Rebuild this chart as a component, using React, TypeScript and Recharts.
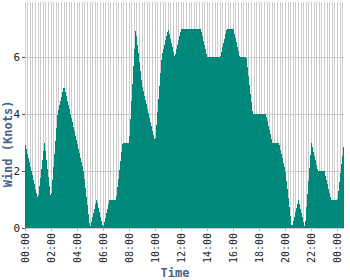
import React from "react";
import { AreaChart, Area, XAxis, YAxis, CartesianGrid } from "recharts";

// half-hourly wind readings, last two run into the next day
const times = [
  "00:00", "00:30", "01:00", "01:30", "02:00", "02:30", "03:00", "03:30",
  "04:00", "04:30", "05:00", "05:30", "06:00", "06:30", "07:00", "07:30",
  "08:00", "08:30", "09:00", "09:30", "10:00", "10:30", "11:00", "11:30",
  "12:00", "12:30", "13:00", "13:30", "14:00", "14:30", "15:00", "15:30",
  "16:00", "16:30", "17:00", "17:30", "18:00", "18:30", "19:00", "19:30",
  "20:00", "20:30", "21:00", "21:30", "22:00", "22:30", "23:00", "23:30",
  "00:00", "00:30",
];
const wind = [
  3, 2, 1, 3, 1, 4, 5, 4,
  3, 2, 0, 1, 0, 1, 1, 3,
  3, 7, 5, 4, 3, 6, 7, 6,
  7, 7, 7, 7, 6, 6, 6, 7,
  7, 6, 6, 4, 4, 4, 3, 3,
  2, 0, 1, 0, 3, 2, 2, 1,
  1, 3,
];
const xTicks = [0, 2, 4, 6, 8, 10, 12, 14, 16, 18, 20, 22, 24];
const yTicks = [0, 2, 4, 6];

const W = 350;
const H = 280;
const X_MAX = 24.5;
const Y_MAX = 7.93;
const LABEL_COLOR = "#46648c";
const MONO = "'DejaVu Sans Mono', monospace";

// turn "HH:MM" into hours, rolling past midnight
const data: { h: number; wind: number }[] = [];
times.forEach((t, i) => {
  const [hh, mm] = t.split(":").map(Number);
  let h = hh + mm / 60;
  if (i > 0 && h < data[i - 1].h) h += 24;
  data.push({ h, wind: wind[i] });
});

// minor vertical grid every 12 minutes
const minorTicks: number[] = [];
for (let m = 0; m <= X_MAX * 60; m += 12) minorTicks.push(m / 60);

const fmtTime = (h: number) => {
  const hh = Math.floor(h) % 24;
  return `${hh < 10 ? "0" : ""}${hh}:00`;
};

const TimeTick = (props: any) => {
  const { x, y, payload } = props;
  return (
    <text
      x={x}
      y={y}
      dy="0.35em"
      textAnchor="end"
      transform={`rotate(-90, ${x}, ${y})`}
      fontSize={10}
      fontFamily={MONO}
      fill="#222"
    >
      {fmtTime(payload.value)}
    </text>
  );
};

const TimeLabel = () => (
  <text
    x={W / 2}
    y={H - 3}
    textAnchor="middle"
    fontSize={12}
    fontWeight="bold"
    fontFamily={MONO}
    fill={LABEL_COLOR}
  >
    Time
  </text>
);

const WindLabel = () => {
  const x = 7.5;
  const y = H / 2 + 4;
  return (
    <text
      x={x}
      y={y}
      dy="0.35em"
      textAnchor="middle"
      transform={`rotate(-90, ${x}, ${y})`}
      fontSize={12}
      fontWeight="bold"
      fontFamily={MONO}
      fill={LABEL_COLOR}
    >
      Wind (Knots)
    </text>
  );
};

export default function App() {
  return (
    <div
      style={{
        position: "absolute",
        left: 0,
        top: 0,
        shapeRendering: "crispEdges",
      }}
    >
      <AreaChart
        width={W}
        height={H}
        data={data}
        margin={{ top: 2, right: 6, left: 0, bottom: 0 }}
      >
        <CartesianGrid
          stroke="#cccccc"
          horizontalValues={yTicks}
          verticalValues={minorTicks}
        />
        <XAxis
          dataKey="h"
          type="number"
          domain={[0, X_MAX]}
          ticks={xTicks}
          interval={0}
          height={52}
          tickSize={3}
          axisLine={false}
          tickLine={{ stroke: "#bbbbbb" }}
          tick={<TimeTick />}
          label={<TimeLabel />}
        />
        <YAxis
          width={25}
          domain={[0, Y_MAX]}
          ticks={yTicks}
          tickSize={3}
          axisLine={false}
          tickLine={{ stroke: "#555555" }}
          tick={{ fontSize: 11, fill: "#222", fontFamily: MONO }}
          label={<WindLabel />}
        />
        <Area
          dataKey="wind"
          type="linear"
          fill="#00897b"
          fillOpacity={1}
          stroke="none"
          isAnimationActive={false}
        />
      </AreaChart>
    </div>
  );
}
